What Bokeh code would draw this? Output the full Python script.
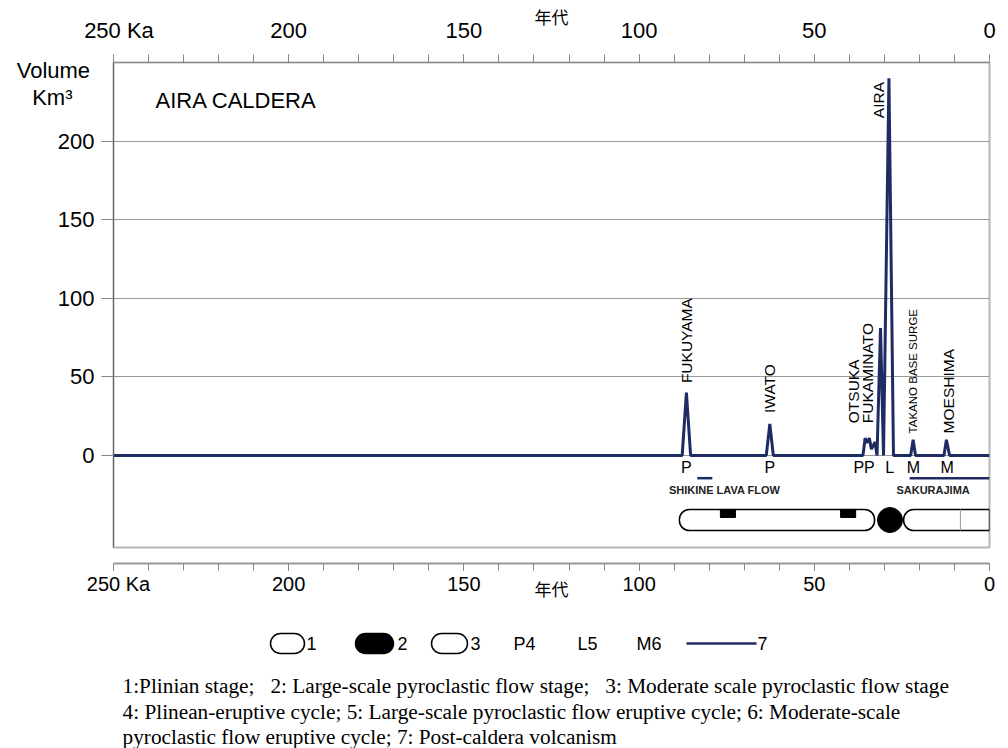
import numpy as np
from bokeh.plotting import figure
from bokeh.models import Range1d, FixedTicker, Label, ColumnDataSource
from bokeh.layouts import column
from bokeh.embed import file_html
from bokeh.resources import INLINE
from bokeh.core.properties import value

# ---------------- data ----------------
# eruption volume series (age in ka, volume in km3)
age_ka = [250, 87.7, 86.5, 85.3, 63.7, 62.7, 61.7, 36.1, 35.5, 35.0, 34.3, 33.7,
          32.7, 32.1, 31.1, 30.25, 28.7, 27.4, 22.5, 21.8, 21.1, 13.0, 12.3, 11.4, 0]
volume = [0, 0, 40, 0, 0, 20, 0, 0, 11, 8, 11, 4,
          8.5, 0, 81, 0, 240, 0, 0, 10, 0, 0, 10, 0, 0]

event_names = ["FUKUYAMA", "IWATO", "OTSUKA", "FUKAMINATO", "TAKANO BASE SURGE", "MOESHIMA"]
event_age = [86.5, 62.7, 38.7, 34.8, 21.8, 11.8]
event_vol = [46, 27, 20.5, 20.5, 14, 14]
main_event = "AIRA"
main_event_age = 31.8
main_event_vol = 237.6

cycle_types = ["P", "P", "PP", "L", "M", "M"]
cycle_age = [86.5, 62.7, 35.8, 28.5, 21.7, 12.1]

lava_names = ["SHIKINE LAVA FLOW", "SAKURAJIMA"]
lava_start = [83.4, 22.8]
lava_end = [79.1, 0.0]
lava_label_age = [75.6, 16.1]

plinian_stage = (88.5, 32.8)
plinian_fall_start = [76.8, 42.5]
plinian_fall_end = [72.5, 38.2]
large_stage_age = 28.4
moderate_stage = (24.5, 0.0)
moderate_divider_age = 8.3

age_ticks = [0, 50, 100, 150, 200, 250]
minor_ticks = list(range(0, 251, 10))
vol_ticks = [0, 50, 100, 150, 200]
age_unit_label = "250 Ka"
vol_title = "Volume"
vol_unit = "Km³"

legend_labels = ["1", "2", "3", "P4", "L5", "M6", "7"]
caption_lines = [
    "1:Plinian stage;\u00a0\u00a0 2: Large-scale pyroclastic flow stage;\u00a0\u00a0 3: Moderate scale pyroclastic flow stage",
    "4: Plinean-eruptive cycle; 5: Large-scale pyroclastic flow eruptive cycle; 6: Moderate-scale",
    "pyroclastic flow eruptive cycle; 7: Post-caldera volcanism",
]

# ---------------- style ----------------
NAVY = "#1f2c64"
SANS = "Liberation Sans"
SERIF = "Liberation Serif"
CJK = "Noto Sans CJK JP"


def kx(px):
    return (989 - px) / 3.504


def vy(py):
    return (455 - py) / 1.570


VOL_TITLE_Y = 244.6   # level of the "Volume" caption on the y axis
VOL_UNIT_Y = 228.0    # level of the "Km³" caption on the y axis

# ---------------- main figure ----------------
p = figure(width=1008, height=549, x_range=Range1d(250, 0), y_range=Range1d(-58.6, 250),
           x_axis_location="above", output_backend="svg", toolbar_location=None,
           min_border_left=113, min_border_right=19, min_border_top=62, min_border_bottom=2)
p.background_fill_color = "white"
p.border_fill_color = "white"
p.outline_line_color = "#b5b5b5"
p.outline_line_width = 2

xa = p.xaxis[0]
xa.ticker = FixedTicker(ticks=age_ticks, minor_ticks=minor_ticks)
xa.major_label_overrides = {250: "\u2002" + age_unit_label}
xa.major_tick_out = 8
xa.major_tick_in = 0
xa.minor_tick_out = 8
xa.minor_tick_in = 0
xa.axis_line_color = "#888888"
xa.major_tick_line_color = "#888888"
xa.minor_tick_line_color = "#888888"
xa.major_label_text_font = SANS
xa.major_label_text_font_size = "22px"
xa.major_label_text_color = "black"
xa.major_label_standoff = 12
xa.axis_label = "年代"
xa.axis_label_text_font = CJK
xa.axis_label_text_font_size = "17px"
xa.axis_label_text_font_style = "normal"
xa.axis_label_text_color = "black"
xa.axis_label_standoff = -14

ya = p.yaxis[0]
ya.ticker = FixedTicker(ticks=vol_ticks + [VOL_UNIT_Y, VOL_TITLE_Y], minor_ticks=vol_ticks)
ya.major_label_overrides = {VOL_TITLE_Y: vol_title + "\u2009", VOL_UNIT_Y: vol_unit + "\u2002\u2002"}
ya.major_tick_out = 12
ya.major_tick_in = 0
ya.major_tick_line_color = None
ya.minor_tick_out = 12
ya.minor_tick_in = 0
ya.minor_tick_line_color = "#888888"
ya.axis_line_color = "#666666"
ya.major_label_text_font = SANS
ya.major_label_text_font_size = "22px"
ya.major_label_text_color = "black"
ya.major_label_standoff = 7

p.xgrid.visible = False
p.ygrid.ticker = FixedTicker(ticks=vol_ticks)
p.ygrid.grid_line_color = "#999999"
p.ygrid.grid_line_width = 1

# title
p.add_layout(Label(x=kx(155), y=vy(100), text="AIRA CALDERA", text_font=SANS,
                   text_font_size="22px", text_baseline="middle", text_align="left",
                   text_color="black"))

# stage bars
ST_TOP, ST_BOT = -34.4, -47.8
p.quad(left=[plinian_stage[0]], right=[plinian_stage[1]], top=[ST_TOP], bottom=[ST_BOT],
       fill_color="white", line_color="black", line_width=1.5, border_radius=10)
p.quad(left=[moderate_stage[0]], right=[moderate_stage[1]], top=[ST_TOP], bottom=[ST_BOT],
       fill_color="white", line_color="black", line_width=1.5, border_radius=(10, 0, 0, 10))
p.segment(x0=[moderate_divider_age], y0=[ST_TOP], x1=[moderate_divider_age], y1=[ST_BOT],
          line_color="#999999", line_width=1)
p.quad(left=plinian_fall_start, right=plinian_fall_end, top=[ST_TOP] * 2, bottom=[-39.5] * 2,
       fill_color="black", line_color="black")
p.scatter(x=[large_stage_age], y=[(ST_TOP + ST_BOT) / 2], size=25, marker="circle",
          fill_color="black", line_color="black")

# lava flows / post caldera
p.segment(x0=lava_start, y0=[-14.5] * 2, x1=lava_end, y1=[-14.5] * 2,
          line_color=NAVY, line_width=2.5)
p.text(x=lava_label_age, y=[-22] * 2, text=lava_names, text_font=value(SANS),
       text_font_size="11px", text_font_style="bold", text_align="center",
       text_baseline="middle", text_color="#222222")

# main series
p.line(age_ka, volume, line_color=NAVY, line_width=3)

# event labels
ev = ColumnDataSource(dict(x=event_age, y=event_vol, t=event_names,
                           fs=["15.5px", "15.5px", "15.5px", "15.5px", "11.5px", "15.5px"]))
p.text(x="x", y="y", text="t", source=ev, angle=np.pi / 2, text_align="left",
       text_baseline="middle", text_font=value(SANS), text_font_size="fs", text_color="black")
p.text(x=[main_event_age], y=[main_event_vol], text=[main_event], angle=np.pi / 2,
       text_align="right", text_baseline="middle", text_font=value(SANS),
       text_font_size="15.5px", text_color="black")

# cycle letters
p.text(x=cycle_age, y=[0] * len(cycle_age), text=cycle_types, y_offset=12,
       text_align="center", text_baseline="middle", text_font=value(SANS),
       text_font_size="16px", text_color="black")

# ---------------- bottom axis strip ----------------
b = figure(width=1008, height=60, x_range=Range1d(250, 0), y_range=Range1d(0, 14),
           output_backend="svg", toolbar_location=None, min_border_left=113, min_border_right=19,
           min_border_top=0, min_border_bottom=46)
b.background_fill_color = "white"
b.border_fill_color = "white"
b.outline_line_color = None
b.grid.visible = False
b.yaxis.visible = False
bx = b.xaxis[0]
bx.ticker = FixedTicker(ticks=age_ticks, minor_ticks=minor_ticks)
bx.major_label_overrides = {250: "\u2002" + age_unit_label}
bx.major_tick_out = 7
bx.major_tick_in = 0
bx.minor_tick_out = 7
bx.minor_tick_in = 0
bx.axis_line_color = "#999999"
bx.axis_line_width = 2
bx.major_tick_line_color = "#888888"
bx.minor_tick_line_color = "#888888"
bx.major_label_text_font = SANS
bx.major_label_text_font_size = "20px"
bx.major_label_text_color = "black"
bx.major_label_standoff = 2
bx.axis_label = "年代"
bx.axis_label_text_font = CJK
bx.axis_label_text_font_size = "17px"
bx.axis_label_text_font_style = "normal"
bx.axis_label_text_color = "black"
bx.axis_label_standoff = -22

# ---------------- legend + caption ----------------
c = figure(width=1008, height=139, x_range=Range1d(113, 989), y_range=Range1d(748, 609),
           output_backend="svg", toolbar_location=None, min_border_left=113,
           min_border_right=19, min_border_top=0, min_border_bottom=0)
c.background_fill_color = "white"
c.border_fill_color = "white"
c.outline_line_color = None
c.grid.visible = False
c.axis.visible = False

LY = 643
c.quad(left=[270, 431], right=[304, 467], top=[LY - 10] * 2, bottom=[LY + 10] * 2,
       fill_color="white", line_color="black", line_width=1.5, border_radius=10)
c.quad(left=[355], right=[393], top=[LY - 10], bottom=[LY + 10],
       fill_color="black", line_color="black", line_width=1.5, border_radius=10)
c.segment(x0=[686], y0=[LY], x1=[756], y1=[LY], line_color=NAVY, line_width=2.5)
c.text(x=[306, 397, 470, 513, 577, 636, 757], y=[LY] * 7, text=legend_labels,
       text_align="left", text_baseline="middle", text_font=value(SANS),
       text_font_size="18px", text_color="black")
c.text(x=[122] * 3, y=[685, 711, 736], text=caption_lines, text_align="left",
       text_baseline="middle", text_font=value(SERIF), text_font_size="21.3px",
       text_color="black")

layout = column(p, b, c, spacing=0)
open("out.html", "w").write(file_html(layout, INLINE))
